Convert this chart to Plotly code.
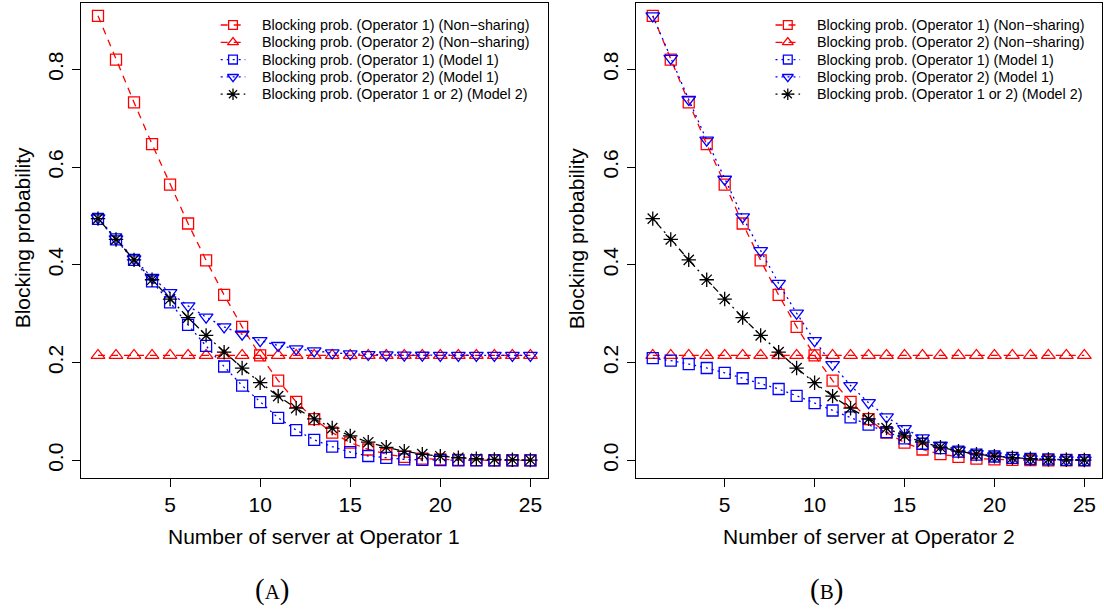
import plotly.graph_objects as go

# ---------------------------------------------------------------- data
servers = list(range(1, 26))

# Panel (A): number of servers at Operator 1 varies
a_op1_nonshare = [0.9091, 0.8197, 0.7321, 0.6467, 0.5640, 0.4845, 0.4090, 0.3383,
                  0.2732, 0.2146, 0.1632, 0.1197, 0.0843, 0.0568, 0.0365, 0.0223,
                  0.0129, 0.0071, 0.0037, 0.0019, 0.0009, 0.0004, 0.0002, 0.0001, 0.0000]
a_op2_nonshare = [0.2146] * 25
a_op1_model1 = [0.494, 0.452, 0.410, 0.366, 0.323, 0.277, 0.234, 0.192, 0.153, 0.119,
                0.087, 0.062, 0.042, 0.028, 0.017, 0.009, 0.005, 0.002, 0.001, 0.0005,
                0.0002, 0.0001, 0.0, 0.0, 0.0]
a_op2_model1 = [0.496, 0.453, 0.412, 0.374, 0.343, 0.316, 0.293, 0.273, 0.258, 0.245,
                0.235, 0.228, 0.224, 0.220, 0.218, 0.2165, 0.2158, 0.2153, 0.2150, 0.2147,
                0.2147, 0.2147, 0.2147, 0.2147, 0.2147]
a_model2 = [0.4945, 0.4518, 0.4101, 0.3694, 0.3300, 0.2920, 0.2557, 0.2213, 0.1889,
            0.1589, 0.1314, 0.1067, 0.0849, 0.0661, 0.0502, 0.0372, 0.0268, 0.0188,
            0.0128, 0.0085, 0.0054, 0.0034, 0.0020, 0.0012, 0.0007]

# Panel (B): number of servers at Operator 2 varies
b_op1_nonshare = list(a_op1_nonshare)
b_op2_nonshare = [0.2146] * 25
b_op1_model1 = [0.209, 0.204, 0.197, 0.189, 0.179, 0.168, 0.158, 0.146, 0.132, 0.117,
                0.102, 0.088, 0.073, 0.058, 0.045, 0.034, 0.025, 0.018, 0.012, 0.008,
                0.005, 0.003, 0.002, 0.001, 0.0006]
b_op2_model1 = [0.909, 0.822, 0.738, 0.655, 0.575, 0.498, 0.429, 0.362, 0.301, 0.245,
                0.196, 0.153, 0.118, 0.089, 0.065, 0.046, 0.031, 0.021, 0.014, 0.009,
                0.0055, 0.0033, 0.002, 0.0011, 0.0006]
b_model2 = list(a_model2)

x_ticks = [5, 10, 15, 20, 25]
y_ticks = [0.0, 0.2, 0.4, 0.6, 0.8]
y_tick_text = ["0.0", "0.2", "0.4", "0.6", "0.8"]

series_names = [
    "Blocking prob. (Operator 1) (Non\u2212sharing)",
    "Blocking prob. (Operator 2) (Non\u2212sharing)",
    "Blocking prob. (Operator 1) (Model 1)",
    "Blocking prob. (Operator 2) (Model 1)",
    "Blocking prob. (Operator 1 or 2) (Model 2)",
]

# ---------------------------------------------------------------- styles
W, H = 1104, 610
SANS = "Liberation Sans, Arial, sans-serif"
SERIF = "Liberation Serif, DejaVu Serif, serif"
RED, BLUE, BLACK = "#FF0000", "#0000FF", "#000000"
LW = 1.3
styles = [
    dict(color=RED, dash="7px,6px", symbol="square-open", size=11),
    dict(color=RED, dash="7px,6px", symbol="triangle-up-open", size=12),
    dict(color=BLUE, dash="2px,4px", symbol="square-open", size=11),
    dict(color=BLUE, dash="2px,4px", symbol="triangle-down-open", size=12),
    dict(color=BLACK, dash="2px,4px,7px,4px", symbol="asterisk-open", size=12),
]

# plot-area geometry in pixels
PLOT_TOP, PLOT_BOTTOM = 2.7, 478.0
PANELS = [(80.7, 547.7), (635.5, 1101.6)]


def fx(px):
    return px / W


def fy(py):
    return 1 - py / H


fig = go.Figure()

panel_data = [
    [a_op1_nonshare, a_op2_nonshare, a_op1_model1, a_op2_model1, a_model2],
    [b_op1_nonshare, b_op2_nonshare, b_op1_model1, b_op2_model1, b_model2],
]
for p, data in enumerate(panel_data):
    xa = "x" if p == 0 else "x2"
    ya = "y" if p == 0 else "y2"
    for vals, st, name in zip(data, styles, series_names):
        fig.add_trace(go.Scatter(
            x=servers, y=vals, mode="lines+markers", name=name, showlegend=False,
            xaxis=xa, yaxis=ya,
            line=dict(color=st["color"], width=LW, dash=st["dash"]),
            marker=dict(symbol=st["symbol"], size=st["size"], color=st["color"],
                        line=dict(color=st["color"], width=LW)),
        ))

# ---------------------------------------------------------------- legends (pixel overlay)
LEG_ROW0, LEG_STEP = 25.0, 17.3
LEG_SYM_DX, LEG_HALF, LEG_TEXT_DX = 152.3, 12.3, 179.3
annotations = []
for p, (left, right) in enumerate(PANELS):
    for i, (st, name) in enumerate(zip(styles, series_names)):
        yrow = LEG_ROW0 + LEG_STEP * i
        xc = left + LEG_SYM_DX
        fig.add_trace(go.Scatter(
            x=[xc - LEG_HALF, xc + LEG_HALF], y=[yrow, yrow], mode="lines",
            xaxis="x3", yaxis="y3", showlegend=False, hoverinfo="skip",
            line=dict(color=st["color"], width=LW, dash=st["dash"]),
        ))
        fig.add_trace(go.Scatter(
            x=[xc], y=[yrow], mode="markers", xaxis="x3", yaxis="y3",
            showlegend=False, hoverinfo="skip",
            marker=dict(symbol=st["symbol"], size=st["size"] * 0.8, color=st["color"],
                        line=dict(color=st["color"], width=LW)),
        ))
        annotations.append(dict(
            text=name, x=fx(left + LEG_TEXT_DX), y=fy(yrow), xref="paper", yref="paper",
            xanchor="left", yanchor="middle", showarrow=False,
            font=dict(family=SANS, size=14.3, color=BLACK),
        ))

# ---------------------------------------------------------------- titles
AX_FONT = 21
for p, (left, right) in enumerate(PANELS):
    annotations.append(dict(
        text="Number of server at Operator %d" % (p + 1),
        x=fx((left + right) / 2), y=fy(536.7), xref="paper", yref="paper",
        xanchor="center", yanchor="middle", showarrow=False,
        font=dict(family=SANS, size=AX_FONT, color=BLACK),
    ))
    annotations.append(dict(
        text="Blocking probability", textangle=-90,
        x=fx(left - 58.7), y=fy((PLOT_TOP + PLOT_BOTTOM) / 2 - 2), xref="paper", yref="paper",
        xanchor="center", yanchor="middle", showarrow=False,
        font=dict(family=SANS, size=AX_FONT, color=BLACK),
    ))
for label, cx in (("A", 272), ("B", 826)):
    annotations.append(dict(
        text="(<span style='font-size:21px'>%s</span>)" % label,
        x=fx(cx), y=fy(589), xref="paper", yref="paper",
        xanchor="center", yanchor="middle", showarrow=False,
        font=dict(family=SERIF, size=29, color=BLACK),
    ))

axis_common = dict(
    showgrid=False, zeroline=False, showline=True, mirror=True,
    linecolor=BLACK, linewidth=1, ticks="outside", ticklen=8, tickwidth=1,
    tickcolor=BLACK, tickfont=dict(family=SANS, size=AX_FONT, color=BLACK),
)
xdom = [[fx(l), fx(r)] for l, r in PANELS]
ydom = [fy(PLOT_BOTTOM), fy(PLOT_TOP)]

fig.update_layout(
    width=W, height=H, margin=dict(l=0, r=0, t=0, b=0),
    paper_bgcolor="white", plot_bgcolor="rgba(0,0,0,0)",
    showlegend=False,
    xaxis=dict(domain=xdom[0], range=[0.04, 25.96], tickvals=x_ticks, anchor="y", **axis_common),
    yaxis=dict(domain=ydom, range=[-0.036, 0.936], tickvals=y_ticks, ticktext=y_tick_text,
               tickangle=-90, anchor="x", **axis_common),
    xaxis2=dict(domain=xdom[1], range=[0.04, 25.96], tickvals=x_ticks, anchor="y2", **axis_common),
    yaxis2=dict(domain=ydom, range=[-0.036, 0.936], tickvals=y_ticks, ticktext=y_tick_text,
                tickangle=-90, anchor="x2", **axis_common),
    xaxis3=dict(domain=[0, 1], range=[0, W], visible=False, anchor="y3", fixedrange=True),
    yaxis3=dict(domain=[0, 1], range=[H, 0], visible=False, anchor="x3", fixedrange=True),
    annotations=annotations,
)

fig.write_html("out.html")
